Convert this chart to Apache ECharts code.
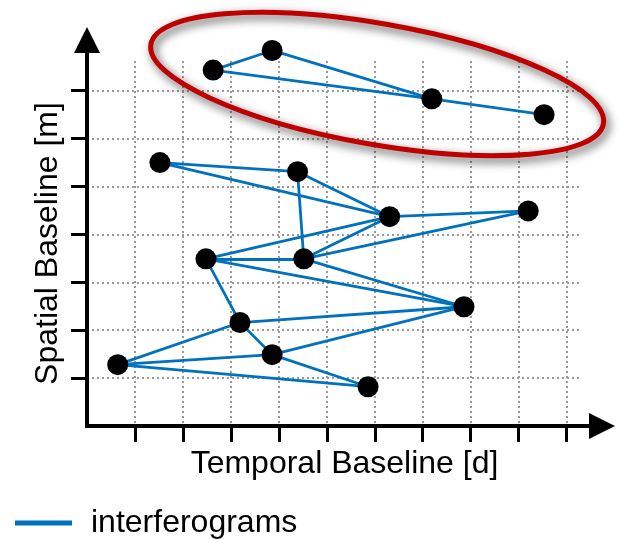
<!DOCTYPE html>
<html>
<head>
<meta charset="utf-8">
<title>Interferogram network</title>
<script src="https://cdn.jsdelivr.net/npm/echarts@6/dist/echarts.min.js"></script>
<style>
  html, body { margin: 0; padding: 0; background: #ffffff; }
  #chart { width: 621px; height: 539px; }
</style>
</head>
<body>
<div id="chart"></div>
<script>
// Acquisitions: temporal baseline (grid units) and spatial baseline (grid units)
const nodeTemporal = [2.63, 3.86, 7.19, 9.53, 1.52, 4.39, 6.31, 9.20, 2.48, 4.52, 3.19, 3.86, 0.64, 7.86, 5.86];
const nodeSpatial  = [7.43, 7.84, 6.83, 6.50, 5.50, 5.31, 4.37, 4.49, 3.49, 3.49, 2.16, 1.49, 1.28, 2.49, 0.82];

// Interferogram pairs (indices into the acquisition arrays)
const pairs = [
  [0, 1], [0, 2], [1, 2], [2, 3],
  [4, 5], [4, 6], [5, 6], [5, 9], [6, 7],
  [8, 6], [8, 9], [8, 13], [8, 10],
  [9, 6], [9, 7], [9, 13],
  [10, 13], [10, 11], [10, 12],
  [11, 12], [11, 13], [11, 14], [12, 14]
];

// Highlighted cluster: centre (temporal, spatial) and semi-axes in grid units
const clusterCenter = [6.05, 7.14];
const clusterRadii = [4.79, 1.26];

const tickTemporal = [1, 2, 3, 4, 5, 6, 7, 8, 9, 10];
const tickSpatial = [1, 2, 3, 4, 5, 6, 7];

const seriesName = 'interferograms';
const xTitle = 'Temporal Baseline [d]';
const yTitle = 'Spatial Baseline [m]';

// ---- layout / style ----
const FONT = '"Liberation Sans", Arial, Helvetica, sans-serif';
const TEXT_COLOR = '#000';
const TITLE_SIZE = 32;
const BLUE = '#0072BD';
const RED = '#C00000';
const UX = 47.96;   // pixels per grid unit, horizontal
const UY = 47.9;    // pixels per grid unit, vertical
const ORIGIN_X = 87, ORIGIN_Y = 426;
const PLOT_RIGHT = 582, PLOT_TOP = 61;     // extent of the dotted grid
const AXIS_RIGHT = 602, AXIS_TOP = 40;     // where the arrow heads sit
const TILT = 0.174;                         // ellipse tilt, radians (clockwise)

const plotW = PLOT_RIGHT - ORIGIN_X, plotH = ORIGIN_Y - PLOT_TOP;
const axW = AXIS_RIGHT - ORIGIN_X, axH = ORIGIN_Y - AXIS_TOP;

const nodes = nodeTemporal.map((t, i) => [t, nodeSpatial[i]]);
const edgeData = pairs.map(([a, b]) => ({ coords: [nodes[a], nodes[b]] }));

const chart = echarts.init(document.getElementById('chart'), null, { renderer: 'canvas' });

chart.setOption({
  backgroundColor: '#ffffff',
  animation: false,
  textStyle: { fontFamily: FONT },
  grid: [
    { left: ORIGIN_X, top: PLOT_TOP, width: plotW, height: plotH },
    { left: ORIGIN_X, top: AXIS_TOP, width: axW, height: axH }
  ],
  legend: {
    left: 10,
    top: 502,
    icon: 'rect',
    itemWidth: 55,
    itemHeight: 3,
    data: [{ name: seriesName, itemStyle: { color: BLUE } }],
    textStyle: { fontFamily: FONT, fontSize: TITLE_SIZE, color: TEXT_COLOR, padding: [0, 0, 0, 15] }
  },
  xAxis: [
    {
      gridIndex: 0, type: 'value', min: 0, max: plotW / UX, interval: 1,
      axisLine: { show: false }, axisTick: { show: false }, axisLabel: { show: false },
      splitLine: {
        show: true, showMinLine: false, showMaxLine: false,
        lineStyle: { color: '#9a9a9a', width: 2, type: [2, 3] }
      }
    },
    {
      gridIndex: 1, type: 'value', min: 0, max: axW / UX, interval: 1,
      name: xTitle, nameLocation: 'middle', nameGap: 22,
      nameTextStyle: { fontFamily: FONT, fontSize: TITLE_SIZE, color: TEXT_COLOR },
      axisLine: {
        show: true, symbol: ['none', 'triangle'], symbolSize: [26, 26],
        lineStyle: { color: '#000', width: 4, cap: 'square' }
      },
      axisTick: { show: true, length: 16, customValues: tickTemporal, lineStyle: { color: '#000', width: 3 } },
      axisLabel: { show: false },
      splitLine: { show: false }
    }
  ],
  yAxis: [
    {
      gridIndex: 0, type: 'value', min: 0, max: plotH / UY, interval: 1,
      name: yTitle, nameLocation: 'middle', nameGap: 23,
      nameTextStyle: { fontFamily: FONT, fontSize: TITLE_SIZE, color: TEXT_COLOR },
      axisLine: { show: false }, axisTick: { show: false }, axisLabel: { show: false },
      splitLine: {
        show: true, showMinLine: false, showMaxLine: false,
        lineStyle: { color: '#9a9a9a', width: 2, type: [2, 3] }
      }
    },
    {
      gridIndex: 1, type: 'value', min: 0, max: axH / UY, interval: 1,
      axisLine: {
        show: true, symbol: ['none', 'triangle'], symbolSize: [26, 26],
        lineStyle: { color: '#000', width: 4, cap: 'square' }
      },
      axisTick: { show: true, length: 16, customValues: tickSpatial, lineStyle: { color: '#000', width: 3 } },
      axisLabel: { show: false },
      splitLine: { show: false }
    }
  ],
  series: [
    {
      name: seriesName,
      type: 'lines',
      coordinateSystem: 'cartesian2d',
      xAxisIndex: 0, yAxisIndex: 0,
      clip: false,
      data: edgeData,
      lineStyle: { color: BLUE, width: 2.8, opacity: 1, curveness: 0 },
      z: 3
    },
    {
      name: 'acquisitions',
      type: 'scatter',
      xAxisIndex: 0, yAxisIndex: 0,
      clip: false,
      data: nodes,
      symbol: 'circle',
      symbolSize: 21,
      itemStyle: { color: '#000', opacity: 1 },
      z: 4
    },
    {
      name: 'cluster',
      type: 'custom',
      xAxisIndex: 0, yAxisIndex: 0,
      clip: false,
      data: [[clusterCenter[0], clusterCenter[1], clusterRadii[0], clusterRadii[1]]],
      renderItem: function (params, api) {
        const c = api.coord([api.value(0), api.value(1)]);
        const s = api.size([api.value(2), api.value(3)]);
        return {
          type: 'ellipse',
          x: c[0], y: c[1],
          rotation: -TILT,
          shape: { cx: 0, cy: 0, rx: s[0], ry: s[1] },
          style: {
            fill: 'none', stroke: RED, lineWidth: 5,
            shadowBlur: 10, shadowColor: 'rgba(0,0,0,0.7)',
            shadowOffsetX: 3, shadowOffsetY: 4
          }
        };
      },
      z: 6
    }
  ]
});
</script>
</body>
</html>
